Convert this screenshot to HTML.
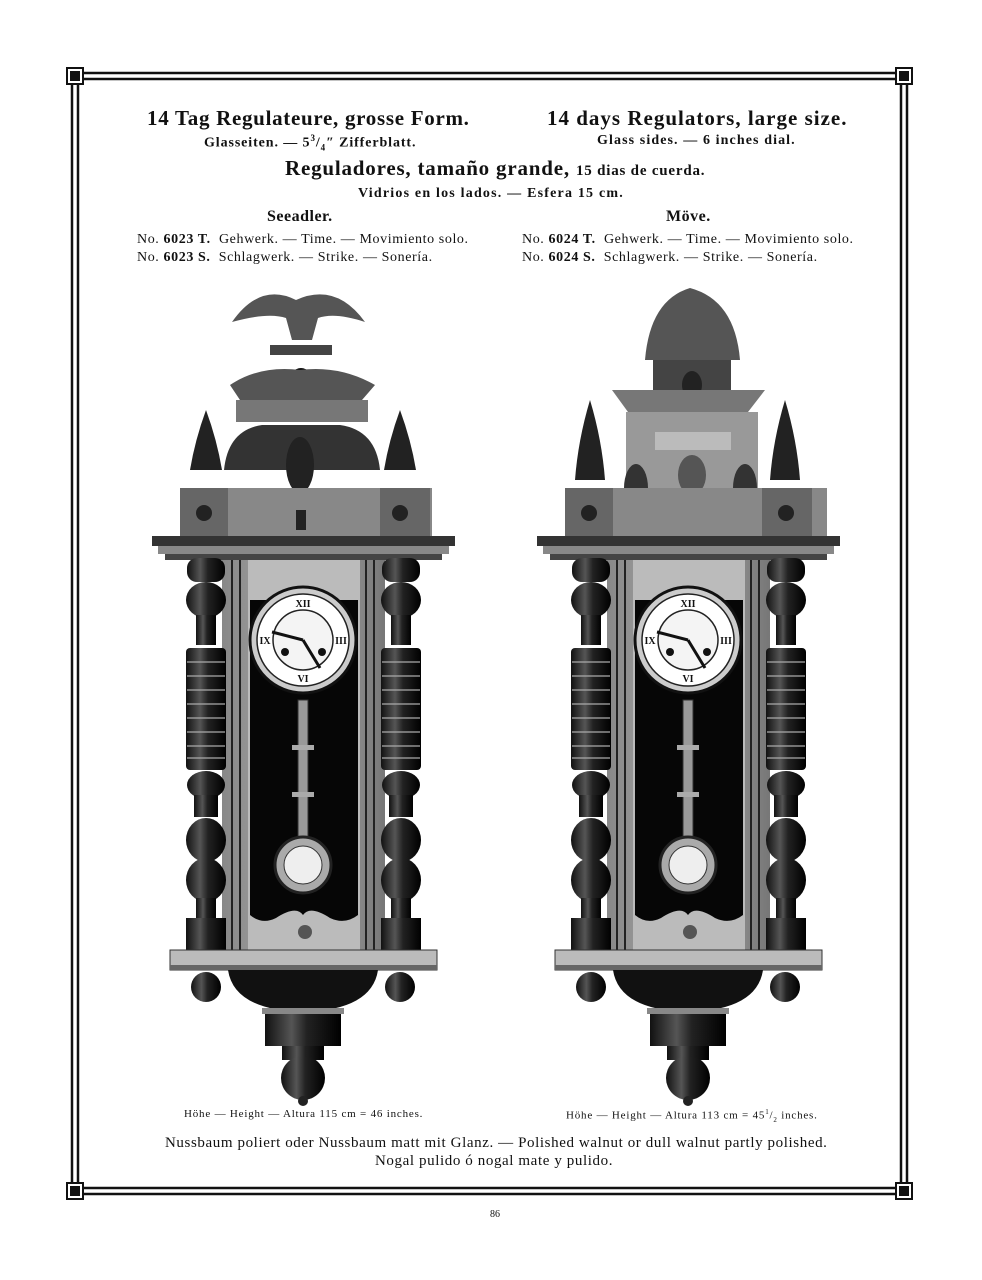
<!DOCTYPE html>
<html><head><meta charset="utf-8">
<style>
html,body{margin:0;padding:0;background:#fff;}
body{width:982px;height:1280px;position:relative;overflow:hidden;font-family:"Liberation Serif",serif;color:#111;}
.t{position:absolute;white-space:nowrap;}
</style></head><body>
<svg width="982" height="1280" style="position:absolute;left:0;top:0">
<defs>
<linearGradient id="col" x1="0" x2="1"><stop offset="0" stop-color="#111"/><stop offset="0.35" stop-color="#555"/><stop offset="0.55" stop-color="#222"/><stop offset="1" stop-color="#000"/></linearGradient>
<linearGradient id="wood" x1="0" x2="1"><stop offset="0" stop-color="#888"/><stop offset="0.5" stop-color="#aaa"/><stop offset="1" stop-color="#777"/></linearGradient>
<g id="clock">
 <rect x="152" y="536" width="303" height="10" fill="#333"/>
 <rect x="158" y="546" width="291" height="8" fill="#888"/>
 <rect x="165" y="554" width="277" height="6" fill="#444"/>
 <rect x="222" y="560" width="163" height="392" fill="url(#wood)"/>
 <line x1="232" y1="560" x2="232" y2="950" stroke="#222" stroke-width="2"/>
 <line x1="240" y1="560" x2="240" y2="950" stroke="#222" stroke-width="2"/>
 <line x1="366" y1="560" x2="366" y2="950" stroke="#222" stroke-width="2"/>
 <line x1="374" y1="560" x2="374" y2="950" stroke="#222" stroke-width="2"/>
 <rect x="248" y="560" width="112" height="390" fill="#bbb"/>
 <path d="M250 600 H358 V915 Q345 925 330 918 Q310 905 303 915 Q296 905 276 918 Q262 925 250 915 Z" fill="#060606"/>
 <g id="colL">
  <rect x="187" y="558" width="38" height="24" rx="10" fill="url(#col)"/>
  <ellipse cx="206" cy="600" rx="20" ry="18" fill="url(#col)"/>
  <rect x="196" y="615" width="20" height="30" fill="url(#col)"/>
  <rect x="186" y="648" width="40" height="122" rx="4" fill="url(#col)"/>
  <g stroke="#aaa" stroke-width="1.2">
   <line x1="187" y1="662" x2="225" y2="662"/><line x1="187" y1="676" x2="225" y2="676"/><line x1="187" y1="690" x2="225" y2="690"/><line x1="187" y1="704" x2="225" y2="704"/><line x1="187" y1="718" x2="225" y2="718"/><line x1="187" y1="732" x2="225" y2="732"/><line x1="187" y1="746" x2="225" y2="746"/><line x1="187" y1="758" x2="225" y2="758"/>
  </g>
  <ellipse cx="206" cy="785" rx="19" ry="14" fill="url(#col)"/>
  <rect x="194" y="795" width="24" height="22" fill="url(#col)"/>
  <ellipse cx="206" cy="840" rx="20" ry="22" fill="url(#col)"/>
  <ellipse cx="206" cy="880" rx="20" ry="22" fill="url(#col)"/>
  <rect x="196" y="898" width="20" height="20" fill="url(#col)"/>
  <rect x="186" y="918" width="40" height="34" fill="url(#col)"/>
 </g>
 <use href="#colL" transform="translate(195,0)"/>
 <circle cx="303" cy="640" r="53" fill="#ccc" stroke="#111" stroke-width="3"/>
 <circle cx="303" cy="640" r="46" fill="#fff" stroke="#222" stroke-width="1.5"/>
 <circle cx="303" cy="640" r="30" fill="#f4f4f4" stroke="#222" stroke-width="1.5"/>
 <g font-family="Liberation Serif,serif" font-size="10" font-weight="bold" text-anchor="middle" fill="#111">
  <text x="303" y="607">XII</text><text x="303" y="682">VI</text><text x="341" y="644">III</text><text x="265" y="644">IX</text>
 </g>
 <line x1="303" y1="640" x2="272" y2="632" stroke="#111" stroke-width="3"/>
 <line x1="303" y1="640" x2="320" y2="668" stroke="#111" stroke-width="3"/>
 <circle cx="285" cy="652" r="4" fill="#111"/><circle cx="322" cy="652" r="4" fill="#111"/>
 <rect x="298" y="700" width="10" height="140" fill="#999" stroke="#333"/>
 <rect x="292" y="745" width="22" height="5" fill="#aaa"/>
 <rect x="292" y="792" width="22" height="5" fill="#aaa"/>
 <circle cx="303" cy="865" r="28" fill="#aaa" stroke="#222" stroke-width="3"/>
 <circle cx="303" cy="865" r="19" fill="#eee" stroke="#333"/>
 <circle cx="305" cy="932" r="7" fill="#555"/>
 <rect x="170" y="950" width="267" height="20" fill="#bbb" stroke="#333"/>
 <rect x="170" y="965" width="267" height="5" fill="#666"/>
 <path d="M228 970 H378 Q372 1010 303 1012 Q234 1010 228 970 Z" fill="#111"/>
 <ellipse cx="206" cy="987" rx="15" ry="15" fill="url(#col)"/>
 <ellipse cx="400" cy="987" rx="15" ry="15" fill="url(#col)"/>
 <rect x="265" y="1010" width="76" height="36" fill="url(#col)"/>
 <rect x="262" y="1008" width="82" height="6" fill="#888"/>
 <rect x="282" y="1046" width="42" height="14" fill="url(#col)"/>
 <ellipse cx="303" cy="1078" rx="22" ry="22" fill="url(#col)"/>
 <circle cx="303" cy="1101" r="5" fill="#222"/>
</g>
</defs>
<g fill="none" stroke="#111" stroke-width="2.5">
 <line x1="76" y1="73" x2="906" y2="73"/><line x1="76" y1="79" x2="906" y2="79"/>
 <line x1="76" y1="1188" x2="906" y2="1188"/><line x1="76" y1="1194" x2="906" y2="1194"/>
 <line x1="72" y1="76" x2="72" y2="1191"/><line x1="78" y1="76" x2="78" y2="1191"/>
 <line x1="901" y1="76" x2="901" y2="1191"/><line x1="907" y1="76" x2="907" y2="1191"/>
</g>
<g>
 <rect x="67" y="68" width="16" height="16" fill="#fff" stroke="#111" stroke-width="2"/><rect x="70" y="71" width="10" height="10" fill="#111"/>
 <rect x="896" y="68" width="16" height="16" fill="#fff" stroke="#111" stroke-width="2"/><rect x="899" y="71" width="10" height="10" fill="#111"/>
 <rect x="67" y="1183" width="16" height="16" fill="#fff" stroke="#111" stroke-width="2"/><rect x="70" y="1186" width="10" height="10" fill="#111"/>
 <rect x="896" y="1183" width="16" height="16" fill="#fff" stroke="#111" stroke-width="2"/><rect x="899" y="1186" width="10" height="10" fill="#111"/>
</g>
<path d="M232 322 Q260 282 296 300 Q336 282 365 322 Q335 312 318 318 L312 340 H292 L286 318 Q268 312 232 322 Z" fill="#555"/>
<rect x="270" y="345" width="62" height="10" fill="#444"/>
<ellipse cx="301" cy="382" rx="12" ry="14" fill="#111"/>
<path d="M230 385 Q260 365 300 370 Q340 365 375 385 L362 400 H240 Z" fill="#555"/>
<rect x="236" y="400" width="132" height="22" fill="#777"/>
<path d="M224 470 Q228 430 262 425 L340 425 Q376 430 380 470 Z" fill="#333"/>
<ellipse cx="300" cy="465" rx="14" ry="28" fill="#222"/>
<path d="M190 470 Q195 440 206 410 Q217 440 222 470 Z" fill="#222"/>
<path d="M384 470 Q389 440 400 410 Q411 440 416 470 Z" fill="#222"/>
<rect x="180" y="488" width="252" height="50" fill="#888"/>
<rect x="180" y="488" width="48" height="50" fill="#666"/><rect x="380" y="488" width="50" height="50" fill="#666"/>
<circle cx="204" cy="513" r="8" fill="#222"/><circle cx="400" cy="513" r="8" fill="#222"/>
<rect x="296" y="510" width="10" height="20" fill="#222"/>
<use href="#clock"/>
<path d="M645 360 Q650 300 690 288 Q735 300 740 360 Z" fill="#555"/>
<rect x="653" y="360" width="78" height="40" fill="#444"/>
<ellipse cx="692" cy="385" rx="10" ry="14" fill="#222"/>
<path d="M612 390 H765 L748 412 H628 Z" fill="#777"/>
<rect x="626" y="412" width="132" height="80" fill="#999"/>
<rect x="655" y="432" width="76" height="18" fill="#bbb"/>
<ellipse cx="692" cy="475" rx="14" ry="20" fill="#555"/>
<ellipse cx="636" cy="488" rx="12" ry="24" fill="#333"/>
<ellipse cx="745" cy="488" rx="12" ry="24" fill="#333"/>
<path d="M575 480 Q578 440 590 400 Q602 440 605 480 Z" fill="#222"/>
<path d="M770 480 Q773 440 785 400 Q797 440 800 480 Z" fill="#222"/>
<rect x="565" y="488" width="262" height="50" fill="#888"/>
<rect x="565" y="488" width="48" height="50" fill="#666"/><rect x="762" y="488" width="50" height="50" fill="#666"/>
<circle cx="589" cy="513" r="8" fill="#222"/><circle cx="786" cy="513" r="8" fill="#222"/>
<use href="#clock" transform="translate(385,0)"/>
</svg>

<div class="t" style="left:147px;top:106px;font-size:21px;font-weight:bold;letter-spacing:0.7px;">14 Tag Regulateure, grosse Form.</div>
<div class="t" style="left:204px;top:133px;font-size:14px;font-weight:bold;letter-spacing:0.9px;">Glasseiten. — 5<sup style="font-size:9px">3</sup>/<sub style="font-size:9px">4</sub>″ Zifferblatt.</div>
<div class="t" style="left:547px;top:106px;font-size:21px;font-weight:bold;letter-spacing:1px;">14 days Regulators, large size.</div>
<div class="t" style="left:597px;top:133px;font-size:14px;font-weight:bold;letter-spacing:1.1px;">Glass sides. — 6 inches dial.</div>
<div class="t" style="left:285px;top:156px;font-size:21px;font-weight:bold;letter-spacing:0.8px;">Reguladores, tamaño grande, <span style="font-size:15px">15 dias de cuerda.</span></div>
<div class="t" style="left:358px;top:186px;font-size:14px;font-weight:bold;letter-spacing:1.2px;">Vidrios en los lados. — Esfera 15 cm.</div>
<div class="t" style="left:267px;top:208px;font-size:16px;font-weight:bold;letter-spacing:0.5px;">Seeadler.</div>
<div class="t" style="left:666px;top:208px;font-size:16px;font-weight:bold;letter-spacing:0.5px;">Möve.</div>
<div class="t" style="left:137px;top:232px;font-size:14px;letter-spacing:0.6px;">No. <b>6023 T.</b>&nbsp; Gehwerk. — Time. — Movimiento solo.</div>
<div class="t" style="left:137px;top:250px;font-size:14px;letter-spacing:0.6px;">No. <b>6023 S.</b>&nbsp; Schlagwerk. — Strike. — Sonería.</div>
<div class="t" style="left:522px;top:232px;font-size:14px;letter-spacing:0.6px;">No. <b>6024 T.</b>&nbsp; Gehwerk. — Time. — Movimiento solo.</div>
<div class="t" style="left:522px;top:250px;font-size:14px;letter-spacing:0.6px;">No. <b>6024 S.</b>&nbsp; Schlagwerk. — Strike. — Sonería.</div>
<div class="t" style="left:184px;top:1108px;font-size:11px;letter-spacing:0.8px;">Höhe — Height — Altura 115 cm = 46 inches.</div>
<div class="t" style="left:566px;top:1108px;font-size:11px;letter-spacing:0.8px;">Höhe — Height — Altura 113 cm = 45<sup style="font-size:7px">1</sup>/<sub style="font-size:7px">2</sub> inches.</div>
<div class="t" style="left:165px;top:1135px;font-size:15px;letter-spacing:0.6px;">Nussbaum poliert oder Nussbaum matt mit Glanz. — Polished walnut or dull walnut partly polished.</div>
<div class="t" style="left:375px;top:1153px;font-size:15px;letter-spacing:0.6px;">Nogal pulido ó nogal mate y pulido.</div>
<div class="t" style="left:490px;top:1209px;font-size:10px;">86</div>
</body></html>
